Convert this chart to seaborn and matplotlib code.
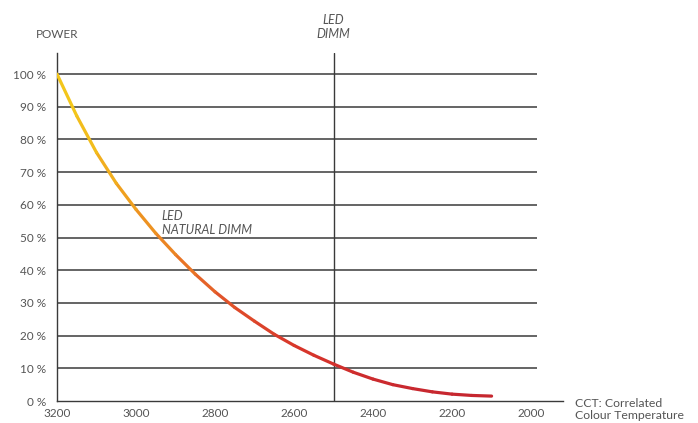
import numpy as np
import pandas as pd
import matplotlib
matplotlib.use("Agg")
import matplotlib.pyplot as plt
from matplotlib.colors import LinearSegmentedColormap
import seaborn as sns

# Colour temperature (K) and relative power (%) along the natural dimming curve
cct = [3200, 3150, 3100, 3050, 3000, 2950, 2900, 2850, 2800, 2750, 2700, 2650,
       2600, 2550, 2500, 2450, 2400, 2350, 2300, 2250, 2200, 2150, 2100]
power = [100, 87.2, 76.0, 66.6, 58.6, 51.3, 44.8, 38.8, 33.4, 28.6, 24.4, 20.4,
         17.0, 14.0, 11.3, 8.8, 6.7, 5.0, 3.8, 2.8, 2.1, 1.7, 1.5]

x_ticks = [3200, 3000, 2800, 2600, 2400, 2200, 2000]
y_ticks = [0, 10, 20, 30, 40, 50, 60, 70, 80, 90, 100]
y_labels = [f"{v} %" for v in y_ticks]
dimm_cct = 2500

sns.set_theme(style="white")
plt.rcParams["font.family"] = ["Lato", "DejaVu Sans"]

TXT = "#555555"
LINE = "#3a3a3a"

# split the curve into short segments so each can carry its own colour
seg_rows = []
for i in range(len(cct) - 1):
    level = (power[i] + power[i + 1]) / 2
    seg_rows.append({"seg": i, "cct": cct[i], "power": power[i], "level": level})
    seg_rows.append({"seg": i, "cct": cct[i + 1], "power": power[i + 1], "level": level})
segs = pd.DataFrame(seg_rows)

warm = LinearSegmentedColormap.from_list(
    "warm",
    [(0.0, "#c42530"), (0.15, "#d7342b"), (0.3, "#e0502a"), (0.4, "#e86f26"),
     (0.5, "#ec8a22"), (0.65, "#f0a41f"), (0.8, "#f2bc1c"), (1.0, "#f3cb1b")])

fig = plt.figure(figsize=(6.98, 4.23), dpi=100)
ax = fig.add_axes([0.0817, 0.052, 0.725, 0.823])

ax.set_xlim(3200, 1919)
ax.set_ylim(0, 106.5)

# horizontal rules
ax.hlines(y_ticks[1:], 3200, 1985, color=LINE, lw=1.1, zorder=1)
# LED DIMM marker
ax.axvline(dimm_cct, color=LINE, lw=1.0, zorder=1)

sns.lineplot(data=segs, x="cct", y="power", hue="level", units="seg",
             estimator=None, palette=warm, hue_norm=(0, 100), legend=False,
             lw=2.3, solid_capstyle="round", ax=ax, zorder=3)

ax.set_xticks(x_ticks)
ax.set_xticklabels([str(v) for v in x_ticks])
ax.set_yticks(y_ticks)
ax.set_yticklabels(y_labels)
ax.tick_params(axis="x", direction="in", length=3, width=1, color=LINE,
               labelsize=8.5, labelcolor=TXT, pad=5)
ax.tick_params(axis="y", direction="out", length=5, width=1.1, color=LINE,
               labelsize=8.5, labelcolor=TXT, pad=3)
ax.set_xlabel("")
ax.set_ylabel("")

for side in ("top", "right"):
    ax.spines[side].set_visible(False)
for side in ("left", "bottom"):
    ax.spines[side].set_color(LINE)
    ax.spines[side].set_linewidth(1.0)

ax.text(3200, 110.5, "POWER", ha="center", va="bottom", fontsize=8.5,
        color=TXT, clip_on=False)
ax.text(dimm_cct, 110.5, "LED\nDIMM", ha="center", va="bottom", fontsize=9,
        color=TXT, style="italic", linespacing=1.2, clip_on=False)
ax.text(2935, 50.5, "LED\nNATURAL DIMM", ha="left", va="bottom", fontsize=9,
        color=TXT, style="italic", linespacing=1.2)
ax.text(1890, 0.8, "CCT: Correlated\nColour Temperature", ha="left", va="top",
        fontsize=8.8, color=TXT, linespacing=1.1, clip_on=False)

fig.savefig("out.png", dpi=100)
